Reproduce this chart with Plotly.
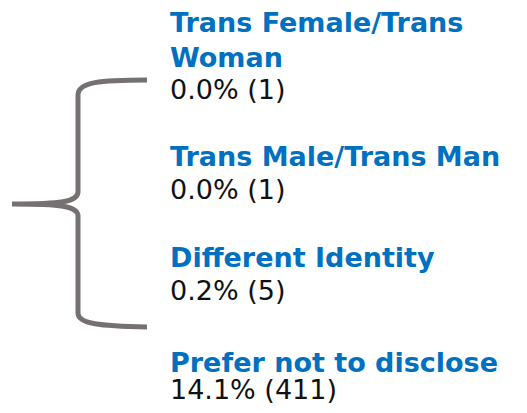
import plotly.graph_objects as go

# ---- data ----
categories = ["Trans Female/Trans<br>Woman", "Trans Male/Trans Man", "Different Identity", "Prefer not to disclose"]
percents = [0.0, 0.0, 0.2, 14.1]
counts = [1, 1, 5, 411]

# ---- layout positions (page pixels, top-left origin) ----
W, H = 527, 413
OFF = 8  # page body margin of the default html
text_x = 168
label_top = [5, 139, 240, 345]    # top of first label line box
value_y = [89, 189, 290, 389]     # centre of value line

BLUE = "#0070C0"
GRAY = "#767171"
FONT = "DejaVu Sans"
FS = 27

fig = go.Figure()

annotations = []
for cat, p, c, ly, vy in zip(categories, percents, counts, label_top, value_y):
    annotations.append(dict(
        x=text_x, y=ly + 30, yshift=30, xref="x", yref="y",
        xanchor="left", yanchor="top",
        text="<b>%s</b>" % cat, showarrow=False, align="left",
        font=dict(family=FONT, size=FS, color=BLUE)))
    annotations.append(dict(
        x=text_x, y=vy, xref="x", yref="y", xanchor="left", yanchor="middle",
        text="%.1f%% (%d)" % (p, c), showarrow=False, align="left",
        font=dict(family=FONT, size=FS, color="#111111")))

# curly brace (decoration)
brace = ("M 147,80 C 100,80 78,82 78,95 L 78,192 C 78,202 60,204 12,204 "
         "C 60,204 78,206 78,216 L 78,313 C 78,324 100,326 147,327")

fig.update_layout(
    width=W, height=H,
    margin=dict(l=0, r=0, t=0, b=0),
    paper_bgcolor="white", plot_bgcolor="white",
    xaxis=dict(range=[OFF, W + OFF], visible=False, fixedrange=True),
    yaxis=dict(range=[H + OFF, OFF], visible=False, fixedrange=True),
    annotations=annotations,
    shapes=[dict(type="path", path=brace, xref="x", yref="y",
                 line=dict(color=GRAY, width=5))],
    showlegend=False,
)

fig.write_html("out.html")
